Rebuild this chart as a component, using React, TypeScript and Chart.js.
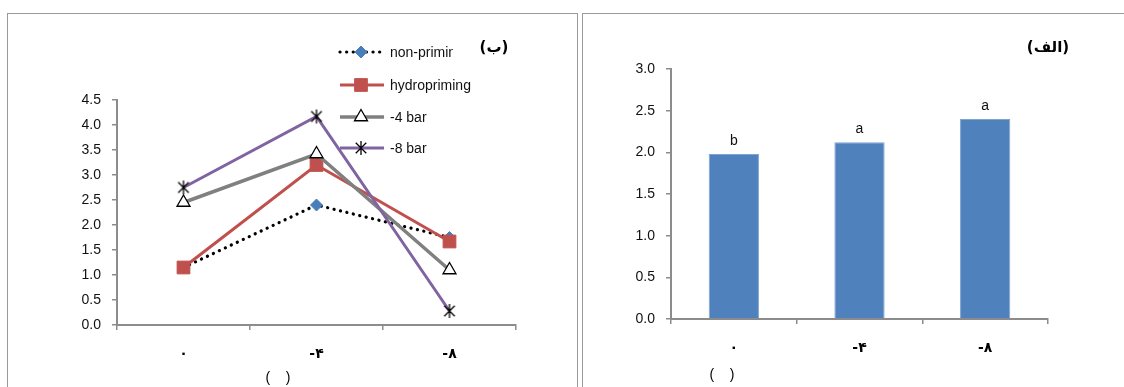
import React, { useEffect, useRef } from "react";
import { Chart, registerables } from "chart.js";

Chart.register(...registerables);

// ---- data ----
const categories = ["۰", "-۴", "-۸"];
const nonPriming = [1.15, 2.4, 1.75];
const hydropriming = [1.15, 3.2, 1.67];
const bar4 = [2.45, 3.42, 1.1];
const bar8 = [2.75, 4.17, 0.28];
const seriesNames = ["non-priming", "hydropriming", "-4 bar", "-8 bar"];
const barValues = [1.98, 2.12, 2.4];
const barLetters = ["b", "a", "a"];
const yTicksLeft = [0, 0.5, 1, 1.5, 2, 2.5, 3, 3.5, 4, 4.5];
const yTicksRight = [0, 0.5, 1, 1.5, 2, 2.5, 3];
const leftTitle = "(ب)";
const rightTitle = "(الف)";
const axisTitle = "(    )";

const FONT = "'Liberation Sans', 'DejaVu Sans', sans-serif";
const AXIS_GRAY = "#8c8c8c";

function drawMarker(ctx: CanvasRenderingContext2D, style: string, r: number, x: number, y: number) {
  ctx.beginPath();
  if (style === "rectRot") {
    ctx.moveTo(x, y - r);
    ctx.lineTo(x + r, y);
    ctx.lineTo(x, y + r);
    ctx.lineTo(x - r, y);
    ctx.closePath();
    ctx.fill();
    ctx.stroke();
  } else if (style === "rect") {
    const s = r / Math.SQRT2;
    ctx.rect(x - s, y - s, 2 * s, 2 * s);
    ctx.fill();
    ctx.stroke();
  } else if (style === "triangle") {
    ctx.moveTo(x, y - r);
    ctx.lineTo(x + r * 0.866, y + r * 0.5);
    ctx.lineTo(x - r * 0.866, y + r * 0.5);
    ctx.closePath();
    ctx.fill();
    ctx.stroke();
  } else if (style === "asterisk") {
    const s = r * 0.75;
    ctx.moveTo(x, y - r);
    ctx.lineTo(x, y + r);
    ctx.moveTo(x - s, y - s);
    ctx.lineTo(x + s, y + s);
    ctx.moveTo(x + s, y - s);
    ctx.lineTo(x - s, y + s);
    ctx.stroke();
  }
}

// custom point style renderer for the asterisk marker (6 spokes)
function asteriskCanvas(r: number): HTMLCanvasElement {
  const c = document.createElement("canvas");
  const size = Math.ceil(r * 2 + 4);
  c.width = size;
  c.height = size;
  const ctx = c.getContext("2d")!;
  ctx.strokeStyle = "#000";
  ctx.lineWidth = 1.3;
  drawMarker(ctx, "asterisk", r, size / 2, size / 2);
  return c;
}

function LineChart() {
  const ref = useRef<HTMLCanvasElement>(null);
  useEffect(() => {
    const canvas = ref.current!;
    const legendPlugin = {
      id: "customLegend",
      afterDraw(chart: any) {
        const ctx = chart.ctx;
        ctx.save();
        const rows = [52, 85, 117, 148];
        const clipRight = [453, 520, 520, 520];
        chart.data.datasets.forEach((ds: any, i: number) => {
          const y = rows[i];
          ctx.save();
          ctx.strokeStyle = ds.borderColor;
          ctx.lineWidth = ds.borderWidth;
          ctx.lineCap = ds.borderCapStyle || "butt";
          ctx.setLineDash(ds.borderDash || []);
          ctx.beginPath();
          ctx.moveTo(340, y);
          ctx.lineTo(384, y);
          ctx.stroke();
          ctx.restore();
          ctx.save();
          ctx.fillStyle = ds.pointBackgroundColor;
          ctx.strokeStyle = ds.pointBorderColor;
          ctx.lineWidth = ds.pointBorderWidth;
          drawMarker(ctx, ds.markerName, ds.pointRadius, 361, y);
          ctx.restore();
          ctx.save();
          ctx.beginPath();
          ctx.rect(385, y - 12, clipRight[i] - 385, 24);
          ctx.clip();
          ctx.fillStyle = "#111";
          ctx.font = `14px ${FONT}`;
          ctx.textBaseline = "middle";
          ctx.textAlign = "left";
          ctx.fillText(ds.label, 390, y + 1);
          ctx.restore();
        });
        ctx.fillStyle = "#000";
        ctx.font = `bold 15px 'DejaVu Sans', sans-serif`;
        ctx.textAlign = "center";
        ctx.textBaseline = "middle";
        ctx.fillText(leftTitle, 494, 48);
        ctx.font = `14px ${FONT}`;
        ctx.fillText(axisTitle, 278, 378);
        ctx.restore();
      },
    };
    const chart = new Chart(canvas, {
      type: "line",
      data: {
        labels: categories,
        datasets: [
          {
            label: seriesNames[0],
            data: nonPriming,
            borderColor: "#000000",
            borderWidth: 3.2,
            borderDash: [0.1, 6.5],
            borderCapStyle: "round",
            pointStyle: "rectRot",
            markerName: "rectRot",
            pointRadius: 6,
            pointBackgroundColor: "#4A7EBB",
            pointBorderColor: "#4A7EBB",
            pointBorderWidth: 1,
            order: 3,
          } as any,
          {
            label: seriesNames[1],
            data: hydropriming,
            borderColor: "#C0504D",
            borderWidth: 3,
            pointStyle: "rect",
            markerName: "rect",
            pointRadius: 9,
            pointBackgroundColor: "#C0504D",
            pointBorderColor: "#C0504D",
            pointBorderWidth: 1,
            order: 2,
          } as any,
          {
            label: seriesNames[2],
            data: bar4,
            borderColor: "#808080",
            borderWidth: 3.5,
            pointStyle: "triangle",
            markerName: "triangle",
            pointRadius: 7.5,
            pointBackgroundColor: "#ffffff",
            pointBorderColor: "#000000",
            pointBorderWidth: 1.3,
            order: 1,
          } as any,
          {
            label: seriesNames[3],
            data: bar8,
            borderColor: "#8064A2",
            borderWidth: 3,
            pointStyle: asteriskCanvas(7),
            markerName: "asterisk",
            pointRadius: 7,
            pointBackgroundColor: "#000000",
            pointBorderColor: "#000000",
            pointBorderWidth: 1.3,
            order: 0,
          } as any,
        ],
      },
      options: {
        animation: false,
        responsive: false,
        layout: { padding: { left: 0, right: 64, top: 100, bottom: 0 } },
        plugins: { legend: { display: false }, tooltip: { enabled: false } },
        elements: { line: { tension: 0 } },
        scales: {
          x: {
            offset: true,
            grid: { display: true, offset: true, drawOnChartArea: false, drawTicks: true, tickLength: 5, color: AXIS_GRAY, lineWidth: 1.5 },
            border: { color: AXIS_GRAY, width: 2 },
            ticks: { color: "#000", font: { size: 14, weight: "bold", family: "'DejaVu Sans', sans-serif" }, padding: 16 },
            afterFit: (s: any) => { s.height = 62; },
          },
          y: {
            min: 0,
            max: 4.5,
            afterBuildTicks: (s: any) => { s.ticks = yTicksLeft.map((v) => ({ value: v })); },
            grid: { display: true, drawOnChartArea: false, drawTicks: true, tickLength: 5, color: AXIS_GRAY, lineWidth: 1.5 },
            border: { color: AXIS_GRAY, width: 2 },
            ticks: { color: "#111", font: { size: 14, family: FONT }, padding: 11, callback: (v: any) => Number(v).toFixed(1) },
            afterFit: (s: any) => { s.width = 117; },
          },
        },
      },
      plugins: [legendPlugin],
    });
    return () => chart.destroy();
  }, []);
  return <canvas ref={ref} width={580} height={387} style={{ position: "absolute", left: 0, top: 0, width: 580, height: 387 }} />;
}

function BarChart() {
  const ref = useRef<HTMLCanvasElement>(null);
  useEffect(() => {
    const canvas = ref.current!;
    const labelPlugin = {
      id: "barLetters",
      afterDraw(chart: any) {
        const ctx = chart.ctx;
        ctx.save();
        const meta = chart.getDatasetMeta(0);
        ctx.fillStyle = "#111";
        ctx.font = `14px ${FONT}`;
        ctx.textAlign = "center";
        ctx.textBaseline = "bottom";
        meta.data.forEach((el: any, i: number) => {
          ctx.fillText(barLetters[i], el.x, el.y - 6);
        });
        ctx.fillStyle = "#000";
        ctx.font = `bold 15px 'DejaVu Sans', sans-serif`;
        ctx.textAlign = "center";
        ctx.textBaseline = "middle";
        ctx.fillText(rightTitle, 468, 48);
        ctx.font = `14px ${FONT}`;
        ctx.fillText(axisTitle, 142, 375);
        ctx.restore();
      },
    };
    const chart = new Chart(canvas, {
      type: "bar",
      data: {
        labels: categories,
        datasets: [
          {
            data: barValues,
            backgroundColor: "#4F81BD",
            borderColor: "#7EA3D1",
            borderWidth: { top: 1, left: 1, right: 1, bottom: 0 },
            categoryPercentage: 1,
            barPercentage: 0.4,
          } as any,
        ],
      },
      options: {
        animation: false,
        responsive: false,
        layout: { padding: { left: 0, right: 76, top: 69, bottom: 0 } },
        plugins: { legend: { display: false }, tooltip: { enabled: false } },
        scales: {
          x: {
            grid: { display: true, offset: true, drawOnChartArea: false, drawTicks: true, tickLength: 5, color: AXIS_GRAY, lineWidth: 1.5 },
            border: { color: AXIS_GRAY, width: 2 },
            ticks: { color: "#000", font: { size: 14, weight: "bold", family: "'DejaVu Sans', sans-serif" }, padding: 16 },
            afterFit: (s: any) => { s.height = 68; },
          },
          y: {
            min: 0,
            max: 3,
            afterBuildTicks: (s: any) => { s.ticks = yTicksRight.map((v) => ({ value: v })); },
            grid: { display: true, drawOnChartArea: false, drawTicks: true, tickLength: 5, color: AXIS_GRAY, lineWidth: 1.5 },
            border: { color: AXIS_GRAY, width: 2 },
            ticks: { color: "#111", font: { size: 14, family: FONT }, padding: 11, callback: (v: any) => Number(v).toFixed(1) },
            afterFit: (s: any) => { s.width = 91; },
          },
        },
      },
      plugins: [labelPlugin],
    });
    return () => chart.destroy();
  }, []);
  return <canvas ref={ref} width={544} height={387} style={{ position: "absolute", left: 580, top: 0, width: 544, height: 387 }} />;
}

export default function App() {
  return (
    <div style={{ position: "fixed", left: 0, top: 0, width: 1124, height: 387, overflow: "hidden", background: "#fff" }}>
      <div style={{ position: "absolute", left: 7, top: 13, width: 571, height: 400, border: "1.5px solid #9a9a9a", boxSizing: "border-box" }} />
      <div style={{ position: "absolute", left: 582, top: 13, width: 560, height: 400, border: "1.5px solid #9a9a9a", boxSizing: "border-box" }} />
      <LineChart />
      <BarChart />
    </div>
  );
}
